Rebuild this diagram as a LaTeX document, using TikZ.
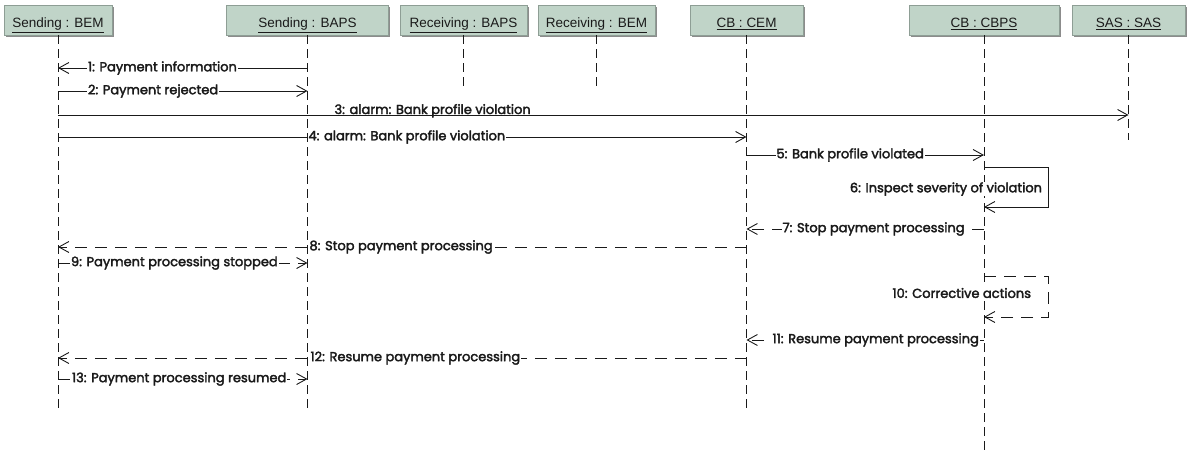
\documentclass[tikz,border=0pt]{standalone}
\usepackage{fontspec}
\usepackage{tikz}
\usetikzlibrary{arrows.meta,shadows}
\newfontfamily\hdrfont{Liberation Sans}
\newfontfamily\msgfont{Poppins}[FakeBold=2.5]
\definecolor{hdrfill}{HTML}{C0D4C8}
\definecolor{hdrline}{HTML}{8E9E95}
\definecolor{ink}{HTML}{1A1A1A}
\tikzset{
  hdr/.style={draw=hdrline, fill=hdrfill, minimum height=30pt, inner sep=0pt,
    text height=17pt, text depth=2pt,
    font=\hdrfont\fontsize{13.5}{16}\selectfont, text=ink,
    drop shadow={shadow xshift=1.5pt, shadow yshift=-1.5pt, fill=black!45, opacity=1}},
  life/.style={line width=0.9pt, draw=ink, dash pattern=on 9pt off 5pt},
  msg/.style={line width=0.9pt, draw=ink, -{Straight Barb[length=10pt,width=11pt]}},
  reply/.style={msg, dash pattern=on 12pt off 8pt},
  lbl/.style={font=\msgfont\fontsize{13}{15}\selectfont, text=ink, fill=white, inner sep=0.8pt},
}

\begin{document}
\begin{tikzpicture}[x=1pt, y=-1pt]
  \useasboundingbox (0,0) rectangle (1187,455);

  % lifeline heads
  \node[hdr, minimum width=108pt] (hBEM)  at (58,20)    {\underline{Sending : BEM}};
  \node[hdr, minimum width=162pt] (hBAPS) at (307.5,20) {\underline{Sending : BAPS}};
  \node[hdr, minimum width=127pt] (hRBAPS) at (463.5,20) {\underline{Receiving : BAPS}};
  \node[hdr, minimum width=117pt] (hRBEM) at (596.5,20) {\underline{Receiving : BEM}};
  \node[hdr, minimum width=113pt] (hCEM)  at (746.5,20) {\underline{CB : CEM}};
  \node[hdr, minimum width=150pt] (hCBPS) at (984,20)   {\underline{CB : CBPS}};
  \node[hdr, minimum width=113pt] (hSAS)  at (1128.5,20) {\underline{SAS : SAS}};

  % message levels
  \coordinate (y1) at (0,68);
  \coordinate (y2) at (0,91);
  \coordinate (y3) at (0,115);
  \coordinate (y4) at (0,137);
  \coordinate (y5) at (0,155);
  \coordinate (y6a) at (0,167);  % self call, top
  \coordinate (y6b) at (0,207);  % self call, bottom
  \coordinate (y7) at (0,229);
  \coordinate (y8) at (0,247);
  \coordinate (y9) at (0,263);
  \coordinate (y10a) at (0,276);
  \coordinate (y10b) at (0,317);
  \coordinate (y11) at (0,340);
  \coordinate (y12) at (0,358);
  \coordinate (y13) at (0,379);
  \coordinate (yShort) at (0,87);   % receiving side ends
  \coordinate (ySas) at (0,140);
  \coordinate (yEnd) at (0,408);
  \coordinate (yBot) at (0,455);

  % lifelines
  \draw[life] (hBEM.south)  -- (hBEM |- yEnd);
  \draw[life] (hBAPS.south) -- (hBAPS |- yEnd);
  \draw[life] (hRBAPS.south) -- (hRBAPS |- yShort);
  \draw[life] (hRBEM.south) -- (hRBEM |- yShort);
  \draw[life] (hCEM.south)  -- (hCEM |- yEnd);
  \draw[life] (hCBPS.south) -- (hCBPS |- yBot);
  \draw[life] (hSAS.south)  -- (hSAS |- ySas);

  % messages
  \draw[msg] (hBAPS |- y1) -- (hBEM |- y1);
  \draw[msg] (hBEM |- y2) -- (hBAPS |- y2);
  \draw[msg] (hBEM |- y3) -- (hSAS |- y3);
  \draw[msg] (hBEM |- y4) -- (hCEM |- y4);
  \draw[msg] (hCEM |- y5) -- (hCBPS |- y5);
  \draw[msg] (hCBPS |- y6a) -- ([xshift=64pt]hCBPS |- y6a) |- (hCBPS |- y6b);
  \draw[reply] (hCBPS |- y7) -- (hCEM |- y7);
  \draw[reply] (hCEM |- y8) -- (hBEM |- y8);
  \draw[reply] (hBEM |- y9) -- (hBAPS |- y9);
  \draw[reply] (hCBPS |- y10a) -- ([xshift=64pt]hCBPS |- y10a) |- (hCBPS |- y10b);
  \draw[reply] (hCBPS |- y11) -- (hCEM |- y11);
  \draw[reply] (hCEM |- y12) -- (hBEM |- y12);
  \draw[reply] (hBEM |- y13) -- (hBAPS |- y13);

  % labels
  \node[lbl, anchor=west] (l1) at ([xshift=29pt]hBEM |- y1) {1: Payment information};
  \node[lbl, anchor=west] (l2) at ([xshift=29pt]hBEM |- y2) {2: Payment rejected};
  \node[lbl, fill=none, anchor=base west] (l3) at ([xshift=26pt,yshift=1pt]hBAPS |- y3) {3: alarm: Bank profile violation};
  \node[lbl, anchor=west] (l4) at ([xshift=0pt]hBAPS |- y4) {4: alarm: Bank profile violation};
  \node[lbl, anchor=west] (l5) at ([xshift=29pt]hCEM |- y5) {5: Bank profile violated};
  \node[lbl, anchor=east] (l6) at ([xshift=59pt,yshift=-22pt]hCBPS |- y6a) {6: Inspect severity of violation};
  \node[lbl, anchor=west] (l7) at ([xshift=35pt]hCEM |- y7) {7: Stop payment processing};
  \node[lbl, anchor=west] (l8) at ([xshift=1pt]hBAPS |- y8) {8: Stop payment processing};
  \node[lbl, anchor=west] (l9) at ([xshift=12pt]hBEM |- y9) {9: Payment processing stopped};
  \node[lbl, anchor=east] (l10) at ([xshift=48pt,yshift=-17pt]hCBPS |- y10a) {10: Corrective actions};
  \node[lbl, anchor=west] (l11) at ([xshift=25pt]hCEM |- y11) {11: Resume payment processing};
  \node[lbl, anchor=west] (l12) at ([xshift=2pt]hBAPS |- y12) {12: Resume payment processing};
  \node[lbl, anchor=west] (l13) at ([xshift=13pt]hBEM |- y13) {13: Payment processing resumed};
\end{tikzpicture}
\end{document}
